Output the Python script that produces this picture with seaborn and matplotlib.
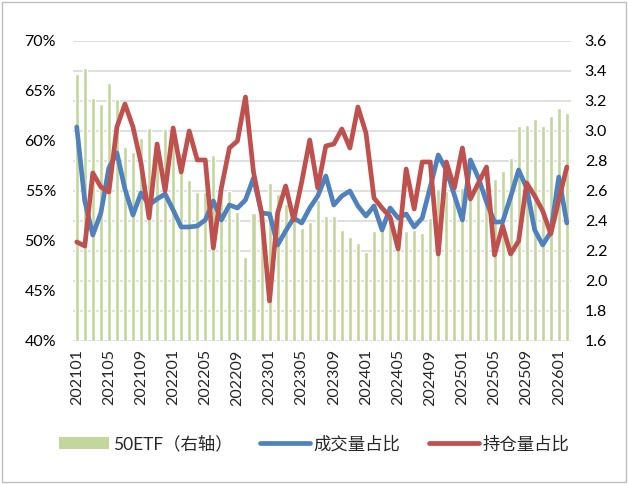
import numpy as np
import pandas as pd
import matplotlib
matplotlib.use('Agg')
import matplotlib.pyplot as plt
from matplotlib.patches import Patch, Rectangle
from matplotlib.lines import Line2D
import seaborn as sns

sns.set_style('white')
plt.rcParams['font.family'] = ['Lato', 'Noto Sans CJK SC', 'DejaVu Sans']

months = list(pd.period_range('2021-01', '2026-02', freq='M').strftime('%Y%m'))

etf = [3.38, 3.42, 3.22, 3.18, 3.32, 3.21, 2.89, 2.86, 2.95, 3.02,
       2.93, 3.01, 2.98, 2.85, 2.67, 2.59, 2.59, 2.84, 2.60, 2.60,
       2.46, 2.16, 2.45, 2.45, 2.65, 2.58, 2.51, 2.47, 2.35, 2.39,
       2.54, 2.43, 2.43, 2.34, 2.29, 2.25, 2.19, 2.33, 2.36, 2.40,
       2.34, 2.33, 2.34, 2.32, 2.42, 2.61, 2.60, 2.57, 2.62, 2.60,
       2.63, 2.62, 2.68, 2.73, 2.82, 3.03, 3.04, 3.08, 3.03, 3.10,
       3.15, 3.12]

vol_share = [61.4, 54.0, 50.6, 52.8, 57.3, 58.8, 55.2, 52.6, 54.8, 53.6,
             54.2, 54.7, 53.1, 51.4, 51.4, 51.5, 52.1, 54.0, 52.1, 53.6,
             53.3, 54.1, 56.3, 52.8, 52.7, 49.6, 51.0, 52.3, 51.8, 53.3,
             54.5, 56.5, 53.6, 54.5, 55.0, 53.5, 52.5, 53.5, 51.1, 53.3,
             52.3, 52.7, 51.4, 52.3, 55.4, 58.6, 57.1, 54.6, 52.1, 58.1,
             56.3, 53.9, 51.9, 51.9, 54.4, 57.1, 55.3, 51.1, 49.6, 50.9,
             56.4, 51.8]

oi_share = [49.9, 49.5, 56.8, 55.4, 54.9, 61.4, 63.7, 61.4, 57.8, 52.3,
            59.7, 55.0, 61.3, 56.9, 61.0, 58.1, 58.1, 49.3, 55.3, 59.3,
            60.0, 64.4, 56.9, 52.8, 44.0, 52.8, 55.5, 52.1, 55.9, 60.1,
            55.3, 59.5, 59.7, 61.2, 59.3, 63.4, 60.8, 54.3, 53.3, 52.4,
            49.2, 57.2, 53.2, 57.9, 57.9, 48.7, 57.9, 55.3, 59.3, 54.2,
            55.8, 57.4, 48.6, 51.5, 48.7, 50.0, 55.8, 54.5, 53.0, 50.7,
            54.1, 57.4]

labels = ['50ETF（右轴）', '成交量占比', '持仓量占比']
green, blue, red = '#C3D69B', '#4F81BD', '#C0504D'

df = pd.DataFrame({'pos': np.arange(len(months)), 'month': months,
                   'etf': etf, 'vol': vol_share, 'oi': oi_share})

fig = plt.figure(figsize=(6.28, 4.84), dpi=100)
ax_bar = fig.add_axes([0.1158, 0.2955, 0.7932, 0.6198])
ax_line = ax_bar.twinx()

# bars on the right-hand scale, drawn underneath
sns.barplot(data=df, x='pos', y='etf', ax=ax_bar, color=green,
            width=0.5, saturation=1)
ax_bar.set_ylim(1.6, 3.6)
rticks = np.arange(1.6, 3.61, 0.2)
ax_bar.set_yticks(rticks)
ax_bar.set_yticklabels([f'{v:.1f}' for v in rticks])
ax_bar.grid(axis='y', color='#D9D9D9', linewidth=1.2)
ax_bar.set_axisbelow(True)

sns.lineplot(data=df, x='pos', y='vol', ax=ax_line, color=blue, linewidth=3.4)
sns.lineplot(data=df, x='pos', y='oi', ax=ax_line, color=red, linewidth=3.4)
ax_line.set_ylim(40, 70)
ax_line.set_yticks(range(40, 71, 5))
ax_line.set_yticklabels([f'{v}%' for v in range(40, 71, 5)])

ax_bar.yaxis.tick_right()
ax_line.yaxis.tick_left()

ax_bar.set_xlim(-0.5, len(months) - 0.5)
ax_bar.set_xticks(range(0, len(months), 4))
ax_bar.set_xticklabels(months[::4], rotation=90)

for a in (ax_bar, ax_line):
    a.set_xlabel('')
    a.set_ylabel('')
    for s in a.spines.values():
        s.set_visible(False)
ax_bar.tick_params(axis='y', length=0, pad=10, labelsize=11.5, colors='#000000')
ax_line.tick_params(axis='y', length=0, pad=12, labelsize=11.5, colors='#000000')
ax_bar.tick_params(axis='x', length=0, pad=6, labelsize=11.5)

handles = [Patch(facecolor=green, edgecolor='none'),
           Line2D([0], [0], color=blue, linewidth=3.4, solid_capstyle='round'),
           Line2D([0], [0], color=red, linewidth=3.4, solid_capstyle='round')]
fig.legend(handles, labels, loc='center', bbox_to_anchor=(0.5, 0.083), ncol=3,
           frameon=False, handlelength=2.9, handletextpad=0.2,
           columnspacing=1.6, prop={'family': ['Lato', 'Noto Sans CJK SC'], 'size': 12.5})

fig.add_artist(Rectangle((0.003, 0.004), 0.994, 0.992, transform=fig.transFigure,
                         fill=False, edgecolor='#BFBFBF', linewidth=1))

fig.savefig('out.png', dpi=100)
